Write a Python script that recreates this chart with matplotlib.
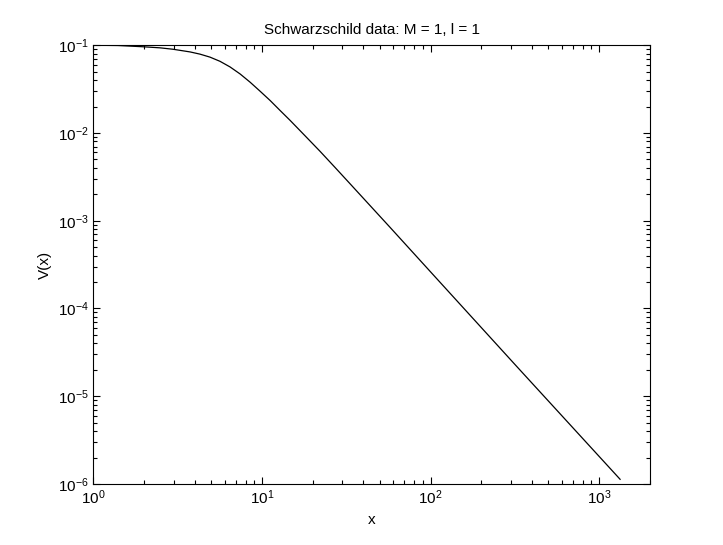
import numpy as np
import matplotlib
matplotlib.use("Agg")
from matplotlib import pyplot as plt
from matplotlib.ticker import LogLocator, NullFormatter

# values
x_vals = [1.0, 1.4, 1.97, 2.49, 2.97, 3.75, 4.29, 4.92, 5.64, 6.47, 7.42,
          8.5, 9.74, 11.2, 12.8, 14.7, 18.0, 22.1, 27.1, 33.3, 57.5,
          103.5, 326.0, 1330.0]
v_vals = [0.1, 0.0993, 0.0961, 0.0934, 0.0900, 0.0839, 0.0792, 0.0732,
          0.0656, 0.0566, 0.0471, 0.0380, 0.0300, 0.0234, 0.01809, 0.01391,
          0.00931, 0.00619, 0.00406, 0.00264, 8.41e-4, 2.43e-4, 2.16e-5,
          1.13e-6]

title = "Schwarzschild data: M = 1, l = 1"
x_limits = (1, 2000)
y_limits = (1e-6, 1e-1)

plt.rcParams["font.family"] = ["Liberation Sans", "DejaVu Sans"]
plt.rcParams["mathtext.fontset"] = "custom"
plt.rcParams["mathtext.rm"] = "Liberation Sans"
plt.rcParams["mathtext.it"] = "Liberation Sans:italic"
plt.rcParams["font.size"] = 10.5

fig = plt.figure(figsize=(7.23, 5.45), dpi=100)
ax = fig.add_axes([0.129, 0.112, 0.770, 0.805])

ax.loglog(x_vals, v_vals, color="black", linewidth=0.9)

ax.set_xlim(*x_limits)
ax.set_ylim(*y_limits)
ax.xaxis.set_major_locator(LogLocator(base=10, numticks=10))
ax.yaxis.set_major_locator(LogLocator(base=10, numticks=10))
ax.xaxis.set_minor_locator(LogLocator(base=10, subs=np.arange(2, 10), numticks=20))
ax.yaxis.set_minor_locator(LogLocator(base=10, subs=np.arange(2, 10), numticks=20))
ax.xaxis.set_minor_formatter(NullFormatter())
ax.yaxis.set_minor_formatter(NullFormatter())

ax.tick_params(which="both", direction="in", top=True, right=True, width=0.8)
ax.tick_params(which="major", length=5, labelsize=11)
ax.tick_params(which="minor", length=3)
for s in ax.spines.values():
    s.set_linewidth(0.8)

ax.set_title(title, fontsize=11, pad=8)
ax.set_xlabel("x", fontsize=11)
ax.set_ylabel("V(x)", fontsize=11)

fig.savefig("out.png", dpi=100)
